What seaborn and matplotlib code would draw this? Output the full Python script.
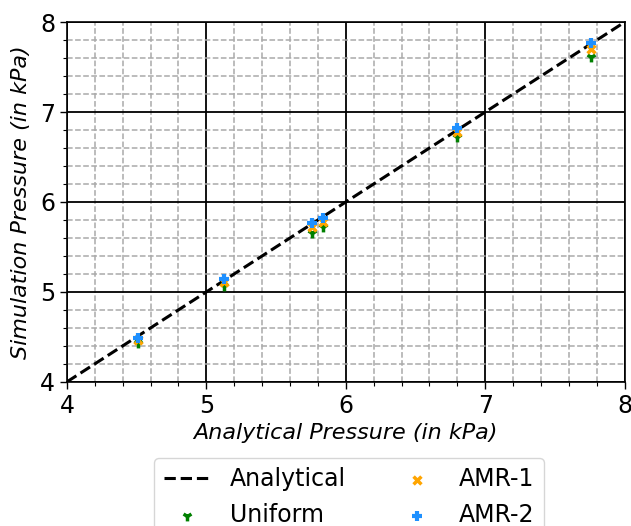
import matplotlib
matplotlib.use("Agg")
import matplotlib.pyplot as plt
import seaborn as sns
import numpy as np
from matplotlib.ticker import MultipleLocator

sns.set_style("white")
plt.rcParams['font.family'] = ['DejaVu Sans']
plt.rcParams['text.color'] = 'black'
plt.rcParams['axes.labelcolor'] = 'black'
plt.rcParams['xtick.color'] = 'black'
plt.rcParams['ytick.color'] = 'black'

analytical_x = [4.51, 5.13, 5.76, 5.84, 6.80, 7.76]
uniform_y = [4.43, 5.07, 5.66, 5.72, 6.72, 7.61]
amr1_y = [4.47, 5.11, 5.72, 5.78, 6.78, 7.70]
amr2_y = [4.49, 5.14, 5.77, 5.82, 6.82, 7.77]
line_xy = [4, 8]

fig = plt.figure(figsize=(6.31, 5.26), dpi=100)
ax = fig.add_axes([0.106, 0.274, 0.884, 0.684])

sns.lineplot(x=line_xy, y=line_xy, ax=ax, color="black", linestyle="--",
             linewidth=2.2, label="Analytical", zorder=3)
sns.scatterplot(x=analytical_x, y=uniform_y, ax=ax, marker="1", color="green",
                s=50, linewidth=2.5, label="Uniform", zorder=4)
sns.scatterplot(x=analytical_x, y=amr1_y, ax=ax, marker="x", color="orange",
                s=32, linewidth=2.5, label="AMR-1", zorder=5)
sns.scatterplot(x=analytical_x, y=amr2_y, ax=ax, marker="+", color="#1E90FF",
                s=42, linewidth=3, label="AMR-2", zorder=6)

ax.set_xlim(4, 8)
ax.set_ylim(4, 8)
ax.xaxis.set_major_locator(MultipleLocator(1))
ax.yaxis.set_major_locator(MultipleLocator(1))
ax.xaxis.set_minor_locator(MultipleLocator(0.2))
ax.yaxis.set_minor_locator(MultipleLocator(0.2))
ax.grid(which="major", color="black", linestyle="-", linewidth=1.3)
ax.grid(which="minor", color="#aaaaaa", linestyle="--", linewidth=1.1)
ax.set_axisbelow(True)
ax.tick_params(which="major", direction="out", length=5, width=1, labelsize=17, bottom=True, left=True)
ax.tick_params(which="minor", direction="out", length=3, width=0.8, bottom=True, left=True)
for s in ax.spines.values():
    s.set_color("black")
    s.set_linewidth(1.2)

ax.set_xlabel("Analytical Pressure (in kPa)", fontsize=16, fontstyle="italic", labelpad=4)
ax.set_ylabel("Simulation Pressure (in kPa)", fontsize=16, fontstyle="italic", labelpad=6)

ax.legend(loc="upper center", bbox_to_anchor=(0.506, -0.211), ncol=2, fontsize=17,
          frameon=True, borderaxespad=0.0)

fig.savefig("out.png", dpi=100)
